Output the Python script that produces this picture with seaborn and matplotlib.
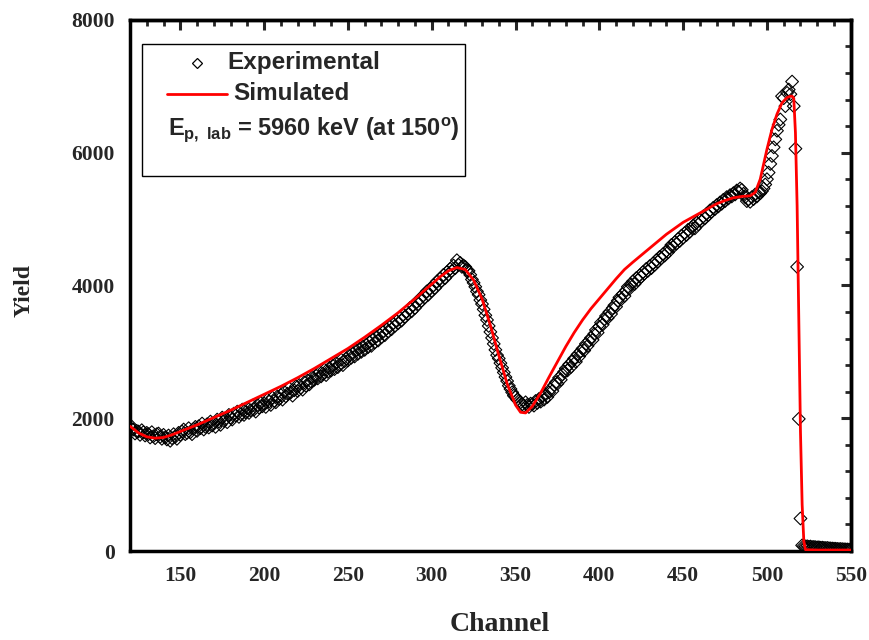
import numpy as np
import pandas as pd
import matplotlib
matplotlib.use("Agg")
import matplotlib.pyplot as plt
from matplotlib.patches import Rectangle
from matplotlib.lines import Line2D
from matplotlib.ticker import MultipleLocator
import seaborn as sns

# ---------------- data ----------------
exp_start = 120
exp_yield = [
    1900, 1840, 1830, 1770, 1810, 1800, 1750, 1820, 1790, 1740,  # 120
    1780, 1760, 1710, 1790, 1730, 1700, 1760, 1770, 1720, 1690,  # 130
    1750, 1710, 1680, 1740, 1660, 1700, 1760, 1720, 1690, 1780,  # 140
    1750, 1800, 1830, 1760, 1780, 1850, 1790, 1760, 1840, 1870,  # 150
    1810, 1880, 1850, 1920, 1830, 1870, 1910, 1860, 1950, 1890,  # 160
    1930, 1870, 1980, 1950, 1900, 2010, 1960, 1990, 1940, 2050,  # 170
    2010, 1980, 2070, 2040, 2100, 2020, 2060, 2130, 2050, 2090,  # 180
    2150, 2080, 2120, 2190, 2130, 2100, 2200, 2160, 2230, 2180,  # 190
    2220, 2170, 2280, 2250, 2200, 2310, 2260, 2240, 2330, 2290,  # 200
    2350, 2280, 2400, 2330, 2370, 2450, 2390, 2340, 2420, 2480,  # 210
    2410, 2500, 2460, 2430, 2540, 2490, 2570, 2510, 2550, 2620,  # 220
    2580, 2640, 2600, 2690, 2630, 2670, 2730, 2650, 2700, 2760,  # 230
    2720, 2790, 2740, 2830, 2770, 2810, 2880, 2800, 2860, 2900,  # 240
    2870, 2950, 2910, 2980, 2930, 3020, 2970, 3050, 3000, 3080,  # 250
    3030, 3110, 3070, 3150, 3090, 3190, 3140, 3230, 3170, 3260,  # 260
    3220, 3300, 3250, 3350, 3310, 3380, 3340, 3430, 3390, 3460,  # 270
    3430, 3510, 3470, 3560, 3530, 3600, 3570, 3660, 3610, 3700,  # 280
    3660, 3750, 3720, 3800, 3770, 3850, 3820, 3910, 3860, 3950,  # 290
    3920, 4000, 3960, 4060, 4020, 4100, 4070, 4160, 4110, 4200,  # 300
    4170, 4250, 4220, 4300, 4260, 4380, 4310, 4340, 4280, 4300,  # 310
    4280, 4230, 4220, 4160, 4090, 4040, 3980, 3910, 3860, 3780,  # 320
    3720, 3640, 3550, 3480, 3390, 3300, 3210, 3120, 3030, 2950,  # 330
    2900, 2830, 2760, 2690, 2620, 2560, 2490, 2440, 2390, 2340,  # 340
    2320, 2280, 2260, 2240, 2210, 2190, 2240, 2200, 2170, 2220,  # 350
    2210, 2190, 2260, 2230, 2290, 2250, 2330, 2280, 2360, 2320,  # 360
    2390, 2440, 2410, 2500, 2540, 2520, 2610, 2580, 2660, 2700,  # 370
    2750, 2720, 2810, 2770, 2860, 2900, 2850, 2960, 2930, 3010,  # 380
    3050, 3020, 3120, 3090, 3170, 3210, 3180, 3270, 3330, 3290,  # 390
    3380, 3440, 3410, 3490, 3540, 3510, 3600, 3570, 3660, 3700,  # 400
    3680, 3770, 3820, 3790, 3870, 3840, 3930, 3980, 3950, 4010,  # 410
    4060, 4020, 4110, 4080, 4150, 4130, 4200, 4180, 4250, 4220,  # 420
    4290, 4260, 4330, 4310, 4380, 4360, 4430, 4410, 4470, 4450,  # 430
    4520, 4500, 4560, 4610, 4580, 4650, 4630, 4700, 4670, 4750,  # 440
    4720, 4790, 4760, 4840, 4810, 4870, 4900, 4860, 4950, 4920,  # 450
    4990, 4970, 5040, 5010, 5080, 5060, 5130, 5110, 5170, 5150,  # 460
    5210, 5190, 5250, 5230, 5290, 5270, 5330, 5310, 5360, 5340,  # 470
    5390, 5370, 5430, 5410, 5460, 5440, 5380, 5330, 5270, 5300,  # 480
    5260, 5330, 5300, 5370, 5340, 5400, 5390, 5420, 5460, 5520,  # 490
    5600, 5700, 5830, 5950, 6080, 6200, 6330, 6420, 6500, 6850,  # 500
    6820, 6700, 6900, 6950, 6880, 7070, 6700, 6060, 4280, 1990,  # 510
    490, 85, 75, 70, 72, 65, 68, 60, 62, 58,                     # 520
    55, 57, 50, 52, 48, 45, 47, 42, 40, 38,                      # 530
    36, 35, 32, 30, 31, 28, 27, 25, 24, 22,                      # 540
    20,                                                          # 550
]
exp_channel = list(range(exp_start, exp_start + len(exp_yield)))

sim_channel = [120, 125, 130, 135, 140, 145, 150, 160, 170, 180, 190, 200,
               210, 220, 230, 240, 250, 260, 270, 280, 290, 300, 305, 310,
               315, 320, 325, 330, 335, 340, 345, 350, 353, 356, 360, 365,
               370, 375, 380, 385, 390, 395, 400, 405, 410, 415, 420, 430,
               440, 450, 460, 470, 475, 480, 485, 490, 493, 496, 500, 503,
               506, 509, 512, 514, 515, 516, 517, 518, 519, 520, 521, 522,
               523, 530, 540, 550]
sim_yield = [1880, 1780, 1720, 1700, 1710, 1750, 1800, 1900, 2010, 2120, 2240, 2360,
             2480, 2610, 2750, 2900, 3050, 3220, 3400, 3590, 3800, 4020, 4130, 4220,
             4270, 4240, 4080, 3800, 3400, 2950, 2520, 2200, 2090, 2080, 2180, 2380,
             2620, 2850, 3080, 3290, 3480, 3650, 3800, 3950, 4100, 4240, 4350, 4560,
             4770, 4950, 5090, 5230, 5280, 5320, 5340, 5350, 5400, 5600, 6050, 6350,
             6580, 6750, 6830, 6850, 6850, 6820, 6300, 5200, 3500, 1800, 700, 150,
             20, 15, 15, 15]

x_ticks = [150, 200, 250, 300, 350, 400, 450, 500, 550]
y_ticks = [0, 2000, 4000, 6000, 8000]

exp_df = pd.DataFrame({"Channel": exp_channel, "Yield": exp_yield})
sim_df = pd.DataFrame({"Channel": sim_channel, "Yield": sim_yield})

# ---------------- style ----------------
sns.set_style("white")
plt.rcParams["font.family"] = ["Liberation Serif", "DejaVu Serif"]
plt.rcParams["mathtext.fontset"] = "custom"
plt.rcParams["mathtext.rm"] = "Liberation Sans:bold"
plt.rcParams["mathtext.it"] = "Liberation Sans:bold"
plt.rcParams["mathtext.bf"] = "Liberation Sans:bold"

fig = plt.figure(figsize=(8.69, 6.40), dpi=100)
ax = fig.add_axes([0.1496, 0.139, 0.8294, 0.830])

sns.scatterplot(data=exp_df, x="Channel", y="Yield", ax=ax, marker="D", s=42,
                facecolor="none", edgecolor="black", linewidth=0.8, zorder=2,
                legend=False)
sns.lineplot(data=sim_df, x="Channel", y="Yield", ax=ax, color="#ff0000",
             linewidth=2.0, sort=False, estimator=None, zorder=3, legend=False)

ax.set_xlim(120, 550)
ax.set_ylim(0, 8000)
ax.set_xticks(x_ticks)
ax.set_yticks(y_ticks)
ax.xaxis.set_minor_locator(MultipleLocator(10))
ax.yaxis.set_minor_locator(MultipleLocator(400))
ax.tick_params(axis="both", which="major", direction="out", length=7, width=2.2,
               labelsize=15.5, pad=4, color="black")
ax.tick_params(axis="both", which="minor", direction="out", length=4, width=2.0,
               color="black")
for lab in ax.get_xticklabels() + ax.get_yticklabels():
    lab.set_fontweight("bold")

for sp in ax.spines.values():
    sp.set_linewidth(2.5)
    sp.set_color("black")
    sp.set_visible(True)

# top and right inward ticks
secx = ax.secondary_xaxis("top")
secx.set_xticks(x_ticks)
secx.xaxis.set_minor_locator(MultipleLocator(10))
secx.tick_params(axis="x", which="major", direction="in", length=7, width=2.2,
                 labeltop=False)
secx.tick_params(axis="x", which="minor", direction="in", length=4, width=2.0)
secx.spines["top"].set_linewidth(2.5)
secy = ax.secondary_yaxis("right")
secy.set_yticks(y_ticks)
secy.yaxis.set_minor_locator(MultipleLocator(400))
secy.tick_params(axis="y", which="major", direction="in", length=7, width=2.2,
                 labelright=False)
secy.tick_params(axis="y", which="minor", direction="in", length=4, width=2.0)
secy.spines["right"].set_linewidth(2.5)

ax.set_xlabel("Channel", fontsize=20, fontweight="bold")
ax.xaxis.set_label_coords(0.513, -0.114)
ax.set_ylabel("Yield", fontsize=17, fontweight="bold")
ax.yaxis.set_label_coords(-0.132, 0.49)

# legend box (drawn manually to match the layout)
box = Rectangle((0.0166, 0.706), 0.448, 0.249, transform=ax.transAxes,
                facecolor="white", edgecolor="black", linewidth=1.0, zorder=5)
ax.add_patch(box)
ax.add_line(Line2D([0.0929], [0.919], transform=ax.transAxes, marker="D",
                   markersize=5.5, markerfacecolor="none",
                   markeredgecolor="black", markeredgewidth=0.9,
                   linestyle="none", zorder=6))
ax.text(0.1345, 0.919, "Experimental", transform=ax.transAxes, fontsize=17.5,
        fontweight="bold", family=["Liberation Sans", "DejaVu Sans"],
        va="center", ha="left", zorder=6)
ax.add_line(Line2D([0.0513, 0.1345], [0.8606, 0.8606], transform=ax.transAxes,
                   color="#ff0000", linewidth=2.0, zorder=6))
ax.text(0.1429, 0.8606, "Simulated", transform=ax.transAxes, fontsize=17.5,
        fontweight="bold", family=["Liberation Sans", "DejaVu Sans"],
        va="center", ha="left", zorder=6)
ax.text(0.0527, 0.793, r"$E_{p,\ lab}$ = 5960 keV (at 150$^{o}$)",
        transform=ax.transAxes, fontsize=17, fontweight="bold",
        family=["Liberation Sans", "DejaVu Sans"], va="center", ha="left",
        zorder=6)

fig.savefig("out.png", dpi=100, facecolor="white")
